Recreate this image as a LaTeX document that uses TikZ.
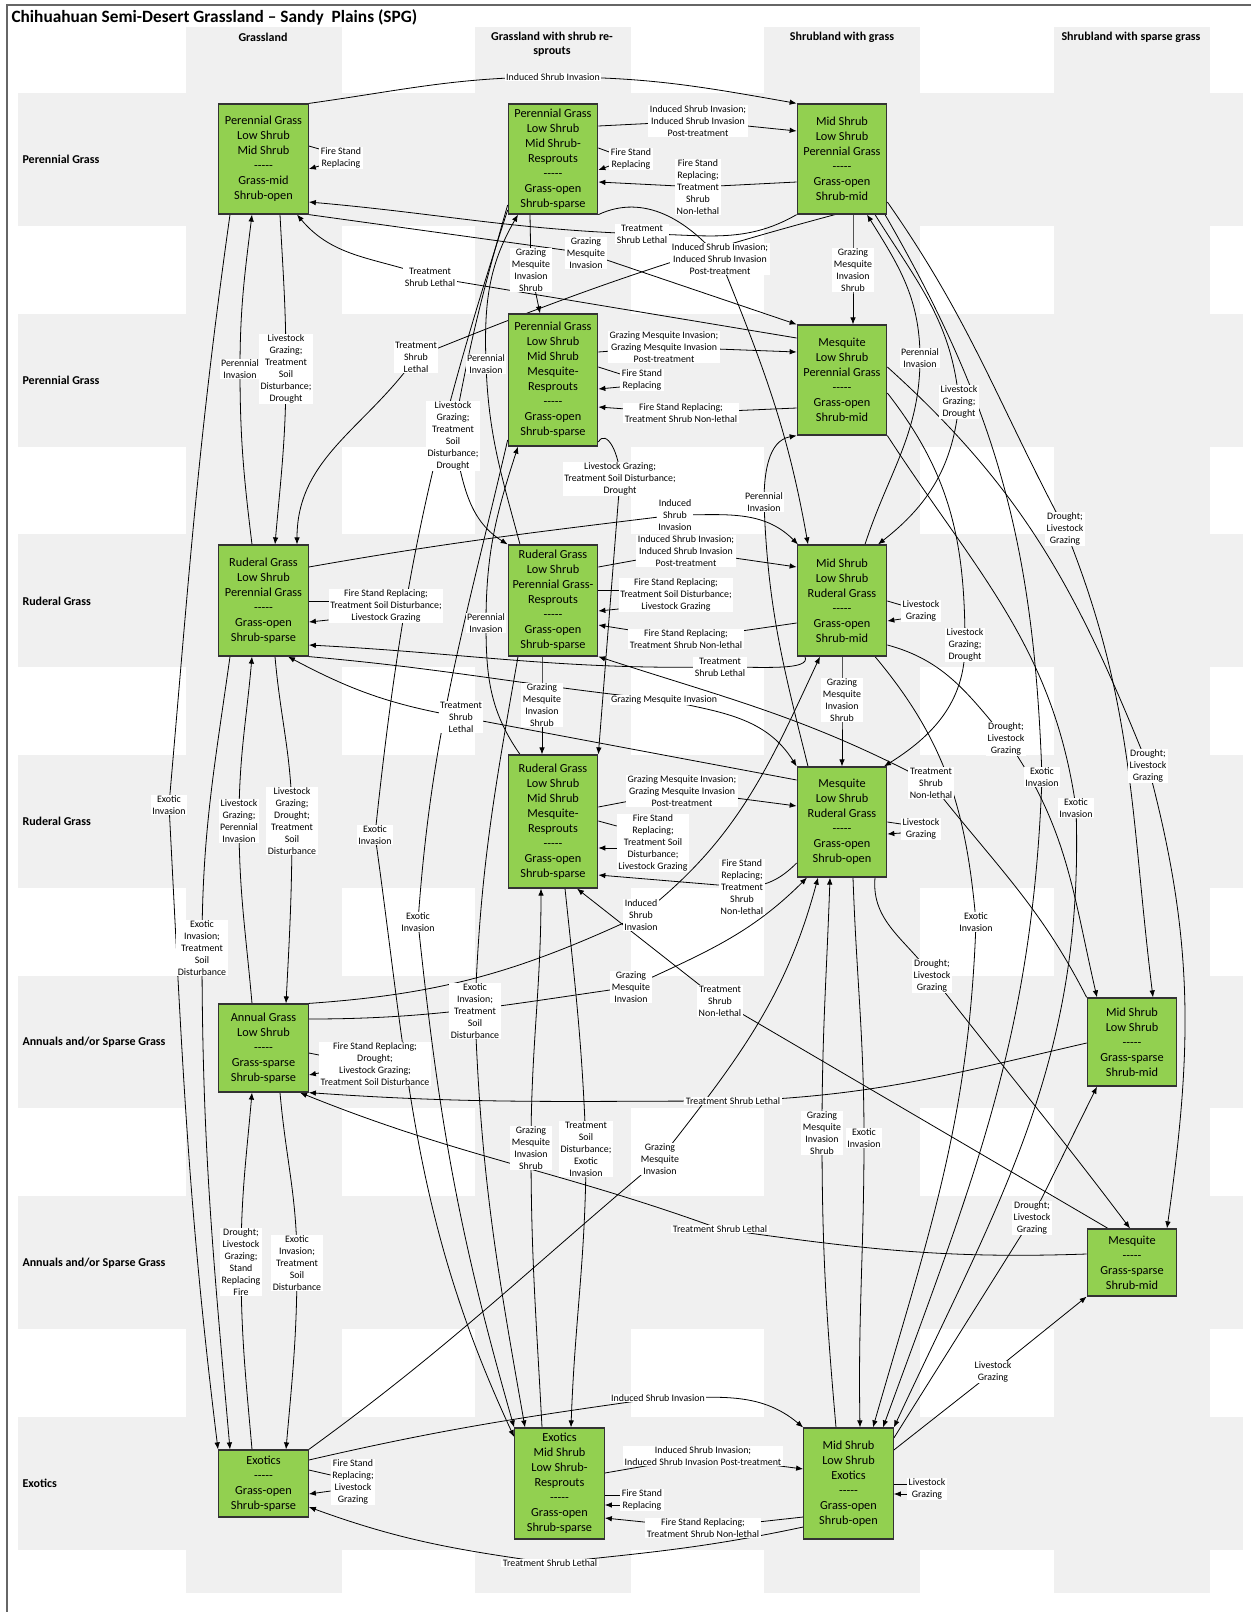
\documentclass[tikz,border=0pt]{standalone}
\usepackage{fontspec}
\setmainfont{Carlito}
\usetikzlibrary{arrows.meta,calc}
\definecolor{gfill}{HTML}{92D050}
\definecolor{bggray}{HTML}{F0F0F0}
\pgfdeclarelayer{bg}\pgfdeclarelayer{fg}\pgfsetlayers{bg,main,fg}
\newcommand\stfont{\fontsize{12.3}{15}\selectfont}
\newcommand\lbfont{\fontsize{9.9}{12}\selectfont}
\newcommand\dsh{-{}-{}-{}-{}-}
\begin{document}
\begin{tikzpicture}[x=1pt,y=-1pt,
  stbox/.style={draw=black!80, fill=gfill, line width=1.2pt, minimum width=89.5pt, inner sep=0pt, align=center, font=\stfont},
  elab/.style={fill=white, inner xsep=1.5pt, inner ysep=1pt, align=center, font=\lbfont},
  edg/.style={line width=0.8pt, draw=black},
  arw/.style={-{Latex[length=7pt,width=5.5pt]}},
  rowl/.style={anchor=west, font=\bfseries\fontsize{12}{14}\selectfont},
  hdr/.style={align=center, font=\bfseries\fontsize{12}{14}\selectfont}]
\useasboundingbox (0,0) rectangle (1251,1612);
\begin{pgfonlayer}{bg}
\fill[white] (0,0) rectangle (1251,1612);
\foreach \a/\b in {93/226,314/447,534/667,755/888,976/1108,1196/1329,1417/1550}
  \fill[bggray] (18,\a) rectangle (1243,\b);
\foreach \a/\b in {186/342,475/631,764/920,1054/1210}
  \fill[bggray] (\a,27) rectangle (\b,1593);
\draw[black!60, line width=1.5pt] (7,1612) -- (7,5) -- (1251,5);
\end{pgfonlayer}

\node[anchor=west, font=\bfseries\fontsize{17.3}{20}\selectfont] (title) at (8,17) {Chihuahuan Semi-Desert Grassland – Sandy~~Plains (SPG)};
\node[hdr] (h1) at (263,37) {Grassland};
\node[hdr] (h2) at (552,44) {Grassland with shrub re-\\sprouts};
\node[hdr] (h3) at (842,37) {Shrubland with grass};
\node[hdr] (h4) at (1131,37) {Shrubland with sparse grass};
\node[rowl] (r1) at (19,159) {Perennial Grass};
\node[rowl] (r2) at (19,380) {Perennial Grass};
\node[rowl] (r3) at (19,601) {Ruderal Grass};
\node[rowl] (r4) at (19,821) {Ruderal Grass};
\node[rowl] (r5) at (19,1042) {Annuals and/or Sparse Grass};
\node[rowl] (r6) at (19,1263) {Annuals and/or Sparse Grass};
\node[rowl] (r7) at (19,1483) {Exotics};

\begin{pgfonlayer}{fg}
\node[stbox,minimum height=110pt] (N1) at (263.5,159) {Perennial Grass\\Low Shrub\\Mid Shrub\\\dsh\\Grass-mid\\Shrub-open};
\node[stbox,minimum height=110pt] (N2) at (553,159) {Perennial Grass\\Low Shrub\\Mid Shrub-\\Resprouts\\\dsh\\Grass-open\\Shrub-sparse};
\node[stbox,minimum height=110pt] (N3) at (842,159) {Mid Shrub\\Low Shrub\\Perennial Grass\\\dsh\\Grass-open\\Shrub-mid};
\node[stbox,minimum height=132pt] (N4) at (553,380) {Perennial Grass\\Low Shrub\\Mid Shrub\\Mesquite-\\Resprouts\\\dsh\\Grass-open\\Shrub-sparse};
\node[stbox,minimum height=110pt] (N5) at (842,380) {Mesquite\\Low Shrub\\Perennial Grass\\\dsh\\Grass-open\\Shrub-mid};
\node[stbox,minimum height=111pt] (N6) at (263.5,600.5) {Ruderal Grass\\Low Shrub\\Perennial Grass\\\dsh\\Grass-open\\Shrub-sparse};
\node[stbox,minimum height=111pt] (N7) at (553,600.5) {Ruderal Grass\\Low Shrub\\Perennial Grass-\\Resprouts\\\dsh\\Grass-open\\Shrub-sparse};
\node[stbox,minimum height=111pt] (N8) at (842,600.5) {Mid Shrub\\Low Shrub\\Ruderal Grass\\\dsh\\Grass-open\\Shrub-mid};
\node[stbox,minimum height=133pt] (N9) at (553,821.5) {Ruderal Grass\\Low Shrub\\Mid Shrub\\Mesquite-\\Resprouts\\\dsh\\Grass-open\\Shrub-sparse};
\node[stbox,minimum height=110pt] (N10) at (842,822) {Mesquite\\Low Shrub\\Ruderal Grass\\\dsh\\Grass-open\\Shrub-open};
\node[stbox,minimum height=88pt] (N11) at (263.5,1048) {Annual Grass\\Low Shrub\\\dsh\\Grass-sparse\\Shrub-sparse};
\node[stbox,minimum height=88pt] (N12) at (1132,1042) {Mid Shrub\\Low Shrub\\\dsh\\Grass-sparse\\Shrub-mid};
\node[stbox,minimum height=67pt] (N13) at (1132,1262.5) {Mesquite\\\dsh\\Grass-sparse\\Shrub-mid};
\node[stbox,minimum height=67pt] (N14) at (263.5,1483.5) {Exotics\\\dsh\\Grass-open\\Shrub-sparse};
\node[stbox,minimum height=111pt] (N15) at (559.5,1483.5) {Exotics\\Mid Shrub\\Low Shrub-\\Resprouts\\\dsh\\Grass-open\\Shrub-sparse};
\node[stbox,minimum height=111pt] (N16) at (848.5,1483.5) {Mid Shrub\\Low Shrub\\Exotics\\\dsh\\Grass-open\\Shrub-open};

\node[elab] (l1) at (553,77) {Induced Shrub Invasion};
\node[elab] (l2) at (341,158) {Fire Stand\\Replacing};
\node[elab] (l3) at (698,121) {Induced Shrub Invasion;\\Induced Shrub Invasion\\Post-treatment};
\node[elab] (l4) at (631,159) {Fire Stand\\Replacing};
\node[elab] (l5) at (698,187) {Fire Stand\\Replacing;\\Treatment\\Shrub\\Non-lethal};
\node[elab] (l6) at (642,234) {Treatment\\Shrub Lethal};
\node[elab] (l7) at (586,253) {Grazing\\Mesquite\\Invasion};
\node[elab] (l8) at (430,277) {Treatment\\Shrub Lethal};
\node[elab] (l9) at (416,357) {Treatment\\Shrub\\Lethal};
\node[elab] (l10) at (720,259) {Induced Shrub Invasion;\\Induced Shrub Invasion\\Post-treatment};
\node[elab] (l11) at (169,805) {Exotic\\Invasion};
\node[elab] (l12) at (240,369) {Perennial\\Invasion};
\node[elab] (l13) at (286,369) {Livestock\\Grazing;\\Treatment\\Soil\\Disturbance;\\Drought};
\node[elab] (l14) at (531,270) {Grazing\\Mesquite\\Invasion\\Shrub};
\node[elab] (l15) at (486,364) {Perennial\\Invasion};
\node[elab] (l16) at (486,623) {Perennial\\Invasion};
\node[elab] (l17) at (453,436) {Livestock\\Grazing;\\Treatment\\Soil\\Disturbance;\\Drought};
\node[elab] (l18) at (375,835) {Exotic\\Invasion};
\node[elab] (l19) at (418,922) {Exotic\\Invasion};
\node[elab] (l20) at (475,1011) {Exotic\\Invasion;\\Treatment\\Soil\\Disturbance};
\node[elab] (l21) at (641,915) {Induced\\Shrub\\Invasion};
\node[elab] (l22) at (631,987) {Grazing\\Mesquite\\Invasion};
\node[elab] (l23) at (241,1262) {Drought;\\Livestock\\Grazing;\\Stand\\Replacing\\Fire};
\node[elab] (l24) at (297,1263) {Exotic\\Invasion;\\Treatment\\Soil\\Disturbance};
\node[elab] (l25) at (202,948) {Exotic\\Invasion;\\Treatment\\Soil\\Disturbance};
\node[elab] (l26) at (239,821) {Livestock\\Grazing;\\Perennial\\Invasion};
\node[elab] (l27) at (292,821) {Livestock\\Grazing;\\Drought;\\Treatment\\Soil\\Disturbance};
\node[elab] (l28) at (375,1064) {Fire Stand Replacing;\\Drought;\\Livestock Grazing;\\Treatment Soil Disturbance};
\node[elab] (l29) at (733,1101) {Treatment Shrub Lethal};
\node[elab] (l30) at (720,1229) {Treatment Shrub Lethal};
\node[elab] (l31) at (550,1563) {Treatment Shrub Lethal};
\node[elab] (l32) at (822,1133) {Grazing\\Mesquite\\Invasion\\Shrub};
\node[elab] (l33) at (660,1159) {Grazing\\Mesquite\\Invasion};
\node[elab] (l34) at (658,1398) {Induced Shrub Invasion};
\node[elab] (l35) at (353,1482) {Fire Stand\\Replacing;\\Livestock\\Grazing};
\node[elab] (l36) at (703,1456) {Induced Shrub Invasion;\\Induced Shrub Invasion Post-treatment};
\node[elab] (l37) at (642,1500) {Fire Stand\\Replacing};
\node[elab] (l38) at (703,1528) {Fire Stand Replacing;\\Treatment Shrub Non-lethal};
\node[elab] (l39) at (586,1149) {Treatment\\Soil\\Disturbance;\\Exotic\\Invasion};
\node[elab] (l40) at (531,1148) {Grazing\\Mesquite\\Invasion\\Shrub};
\node[elab] (l41) at (720,1001) {Treatment\\Shrub\\Non-lethal};
\node[elab] (l42) at (682,791) {Grazing Mesquite Invasion;\\Grazing Mesquite Invasion\\Post-treatment};
\node[elab] (l43) at (653,843) {Fire Stand\\Replacing;\\Treatment Soil\\Disturbance;\\Livestock Grazing};
\node[elab] (l44) at (742,887) {Fire Stand\\Replacing;\\Treatment\\Shrub\\Non-lethal};
\node[elab] (l45) at (921,829) {Livestock\\Grazing};
\node[elab] (l46) at (864,1138) {Exotic\\Invasion};
\node[elab] (l47) at (932,976) {Drought;\\Livestock\\Grazing};
\node[elab] (l48) at (1065,529) {Drought;\\Livestock\\Grazing};
\node[elab] (l49) at (959,402) {Livestock\\Grazing;\\Drought};
\node[elab] (l50) at (1042,777) {Exotic\\Invasion};
\node[elab] (l51) at (1032,1218) {Drought;\\Livestock\\Grazing};
\node[elab] (l52) at (993,1372) {Livestock\\Grazing};
\node[elab] (l53) at (1006,739) {Drought;\\Livestock\\Grazing};
\node[elab] (l54) at (1148,766) {Drought;\\Livestock\\Grazing};
\node[elab] (l55) at (965,645) {Livestock\\Grazing;\\Drought};
\node[elab] (l56) at (675,515) {Induced\\Shrub\\Invasion};
\node[elab] (l57) at (686,551) {Induced Shrub Invasion;\\Induced Shrub Invasion\\Post-treatment};
\node[elab] (l58) at (676,595) {Fire Stand Replacing;\\Treatment Soil Disturbance;\\Livestock Grazing};
\node[elab] (l59) at (686,639) {Fire Stand Replacing;\\Treatment Shrub Non-lethal};
\node[elab] (l60) at (720,667) {Treatment\\Shrub Lethal};
\node[elab] (l61) at (664,700) {Grazing Mesquite Invasion};
\node[elab] (l62) at (461,717) {Treatment\\Shrub\\Lethal};
\node[elab] (l63) at (842,700) {Grazing\\Mesquite\\Invasion\\Shrub};
\node[elab] (l64) at (920,358) {Perennial\\Invasion};
\node[elab] (l65) at (764,502) {Perennial\\Invasion};
\node[elab] (l66) at (921,611) {Livestock\\Grazing};
\node[elab] (l67) at (976,922) {Exotic\\Invasion};
\node[elab] (l68) at (664,347) {Grazing Mesquite Invasion;\\Grazing Mesquite Invasion\\Post-treatment};
\node[elab] (l69) at (642,380) {Fire Stand\\Replacing};
\node[elab] (l70) at (681,413) {Fire Stand Replacing;\\Treatment Shrub Non-lethal};
\node[elab] (l71) at (620,479) {Livestock Grazing;\\Treatment Soil Disturbance;\\Drought};
\node[elab] (l73) at (931,783) {Treatment\\Shrub\\Non-lethal};
\node[elab] (l74) at (542,705) {Grazing\\Mesquite\\Invasion\\Shrub};
\node[elab] (l75) at (853,270) {Grazing\\Mesquite\\Invasion\\Shrub};
\node[elab] (l76) at (1076,808) {Exotic\\Invasion};
\node[elab] (l77) at (386,606) {Fire Stand Replacing;\\Treatment Soil Disturbance;\\Livestock Grazing};
\node[elab] (l78) at (927,1489) {Livestock\\Grazing};
\end{pgfonlayer}

% edges
\draw[edg,arw] (N1.north east) to[out=8,in=180] (l1.center) to[out=0,in=170] (N3.north west);
\draw[edg] (N1.east |- 0,146) -- (l2.west |- 0,149);
\draw[edg,arw] (l2.west |- 0,166) -- (N1.east |- 0,169);
\draw[edg,arw] (N2.east |- 0,126) -- (l3.center) -- (N3.west |- 0,131);
\draw[edg] (N2.east |- 0,148) -- (l4.west |- 0,152);
\draw[edg,arw] (l4.west |- 0,166) -- (N2.east |- 0,170);
\draw[edg,arw] (N3.west |- 0,182) -- (l5.center) -- (N2.east |- 0,182);
\draw[edg,arw] (N3.south west) to[out=-150,in=0] (l6.center) to[out=178,in=-5] (N1.east |- 0,202);
\draw[edg,arw] (N1.south east) -- (l7.center) -- (N5.north west);
\draw[edg,arw] (N5.west |- 0,338) -- (l8.center) to[out=160,in=-50] (N1.south -| 297,0);
\draw[edg,arw] (N3.south -| 835,0) to[out=-165,in=22] (l9.center) to[out=-125,in=90] (N6.north -| 297,0);
\draw[edg,arw] (N2.south east) to[out=25,in=130] (l10.center) to[out=-68,in=100] (N8.north -| 808,0);
\draw[edg,arw] (N1.south -| 230,0) to[out=-98,in=85] (l11.center) to[out=-87,in=97] (N14.north -| 218,0);
\draw[edg,arw] (N6.north -| 252,0) to[out=97,in=-90] (l12.center) to[out=90,in=-97] (N1.south -| 252,0);
\draw[edg,arw] (N1.south -| 280,0) to[out=-87,in=90] (l13.center) to[out=-90,in=85] (N6.north -| 275,0);
\draw[edg,arw] (N2.south -| 530,0) -- (l14.center) -- (N4.north -| 540,0);
\draw[edg,arw] (N7.north -| 520,0) to[out=105,in=-88] (l15.center) to[out=92,in=-120] (N2.south -| 518,0);
\draw[edg,arw] (N9.north -| 520,0) to[out=125,in=-90] (l16.center) to[out=90,in=-108] (N4.south -| 518,0);
\draw[edg,arw] (N2.west |- 0,205) to[out=-106,in=80] (l17.center) to[out=-78,in=148] (N7.north west);
\draw[edg,arw] (N2.west |- 0,210) to[out=-108,in=84] (l18.center) to[out=-82,in=115] (N15.west |- 0,1437);
\draw[edg,arw] (N4.west |- 0,440) to[out=-103,in=86] (l19.center) to[out=-84,in=106] (N15.north west);
\draw[edg,arw] (N7.south -| 518,0) to[out=-100,in=88] (l20.center) to[out=-88,in=100] (N15.north -| 525,0);
\draw[edg,arw] (N11.north east) to[out=4,in=-155] (l21.center) to[out=38,in=-115] (N8.south -| 820,0);
\draw[edg,arw] (N11.east |- 0,1019) to[out=0,in=-172] (l22.center) to[out=25,in=-135] (N10.south -| 807,0);
\draw[edg,arw] (N14.north -| 252,0) to[out=95,in=-90] (l23.center) to[out=90,in=-95] (N11.south -| 252,0);
\draw[edg,arw] (N11.south -| 280,0) to[out=-85,in=90] (l24.center) to[out=-90,in=85] (N14.north -| 286,0);
\draw[edg,arw] (N6.south -| 230,0) to[out=-98,in=90] (l25.center) to[out=-90,in=95] (N14.north -| 230,0);
\draw[edg,arw] (N11.north -| 252,0) to[out=95,in=-90] (l26.center) to[out=90,in=-95] (N6.south -| 252,0);
\draw[edg,arw] (N6.south -| 275,0) to[out=-85,in=90] (l27.center) to[out=-90,in=87] (N11.north -| 286,0);
\draw[edg] (N11.east |- 0,1053) -- (l28.west |- 0,1055);
\draw[edg,arw] (l28.west |- 0,1073) -- (N11.east |- 0,1075);
\draw[edg,arw] (N12.west |- 0,1043) to[out=-167,in=2] (l29.center) to[out=180,in=-4] (N11.south east);
\draw[edg,arw] (N13.west |- 0,1254) to[out=-178,in=-8] (l30.center) to[out=160,in=-22] (N11.south -| 300,0);
\draw[edg,arw] (N16.west |- 0,1527) to[out=-168,in=6] (l31.center) to[out=172,in=-20] (N14.east |- 0,1507);
\draw[edg,arw] (N16.north -| 836,0) to[out=95,in=-90] (l32.center) to[out=90,in=-92] (N10.south -| 830,0);
\draw[edg,arw] (N14.north east) to[out=36,in=-140] (l33.center) to[out=52,in=-105] (N10.south -| 818,0);
\draw[edg,arw] (N14.east |- 0,1460) to[out=13,in=-172] (l34.center) to[out=0,in=140] (N16.north west);
\draw[edg] (N14.east |- 0,1470) -- (l35.west |- 0,1475);
\draw[edg,arw] (l35.west |- 0,1491) -- (N14.east |- 0,1494);
\draw[edg,arw] (N15.east |- 0,1473) -- (l36.center) -- (N16.west |- 0,1469);
\draw[edg] (N15.east |- 0,1495) -- (l37.west |- 0,1495);
\draw[edg,arw] (l37.west |- 0,1505) -- (N15.east |- 0,1505);
\draw[edg,arw] (N16.west |- 0,1517) -- (l38.center) -- (N15.east |- 0,1518);
\draw[edg,arw] (N9.south -| 565,0) to[out=-84,in=92] (l39.center) to[out=-90,in=88] (N15.north -| 571,0);
\draw[edg,arw] (N15.north -| 542,0) to[out=93,in=-90] (l40.center) to[out=90,in=-90] (N9.south -| 541,0);
\draw[edg,arw] (N13.north -| 1108,0) -- (l41.center) -- (N9.south -| 577,0);
\draw[edg,arw] (N9.east |- 0,807) -- (l42.center) -- (N10.west |- 0,806);
\draw[edg] (N9.east |- 0,821) -- (l43.west |- 0,826);
\draw[edg,arw] (l43.west |- 0,848) -- (N9.east |- 0,848);
\draw[edg,arw] (N10.west |- 0,863) to[out=-135,in=0] (l44.center) -- (N9.east |- 0,875);
\draw[edg] (N10.east |- 0,822) -- (l45.west |- 0,824);
\draw[edg,arw] (l45.west |- 0,833) -- (N10.east |- 0,834);
\draw[edg,arw] (N10.south -| 853,0) to[out=-88,in=90] (l46.center) to[out=-90,in=91] (N16.north -| 860,0);
\draw[edg,arw] (N10.south -| 875,0) to[out=-95,in=125] (l47.center) to[out=-52,in=127] (N13.north -| 1130,0);
\draw[edg,arw] (N3.east |- 0,202) to[out=-55,in=118] (l48.center) to[out=-68,in=97] (N12.north -| 1153,0);
\draw[edg,arw] (N3.south -| 875,0) to[out=-58,in=95] (l49.center) to[out=-95,in=38] (N8.north -| 878,0);
\draw[edg,arw] (N3.south -| 885,0) to[out=-60,in=92] (l50.center) to[out=-92,in=70] (N16.north -| 883,0);
\draw[edg,arw] (N16.east |- 0,1438) -- (l51.center) -- (N12.south -| 1097,0);
\draw[edg,arw] (N16.east |- 0,1450) -- (l52.center) -- (N13.south west);
\draw[edg,arw] (N8.east |- 0,645) to[out=-15,in=130] (l53.center) to[out=-55,in=103] (N12.north -| 1097,0);
\draw[edg,arw] (N5.east |- 0,367) to[out=-42,in=112] (l54.center) to[out=-75,in=82] (N13.north -| 1167,0);
\draw[edg,arw] (N5.east |- 0,393) to[out=-52,in=90] (l55.center) to[out=-90,in=32] (N10.north -| 884,0);
\draw[edg,arw] (N6.east |- 0,567) to[out=10,in=-173] (l56.center) to[out=0,in=135] (N8.north -| 798,0);
\draw[edg,arw] (N7.east |- 0,567) -- (l57.center) -- (N8.west |- 0,567);
\draw[edg] (N7.east |- 0,590) -- (l58.west |- 0,590);
\draw[edg,arw] (l58.west |- 0,609) -- (N7.east |- 0,611);
\draw[edg,arw] (N8.west |- 0,623) -- (l59.center) -- (N7.east |- 0,625);
\draw[edg,arw] (N8.south -| 805,0) .. controls +(6,14) and +(45,0) .. (l60.center) to[out=181,in=-3] (N6.east |- 0,645);
\draw[edg,arw] (N6.south east) to[out=-5,in=174] (l61.center) to[out=-12,in=122] (N10.north west);
\draw[edg,arw] (N10.west |- 0,780) -- (l62.center) to[out=170,in=-28] (N6.south -| 288,0);
\draw[edg,arw] (N8.south) -- (l63.center) -- (N10.north);
\draw[edg,arw] (N8.north -| 865,0) to[out=72,in=-90] (l64.center) to[out=90,in=-58] (N3.south -| 867,0);
\draw[edg,arw] (N10.north -| 808,0) to[out=104,in=-88] (l65.center) to[out=90,in=-170] (N5.south west);
\draw[edg] (N8.east |- 0,601) -- (l66.west |- 0,605);
\draw[edg,arw] (l66.west |- 0,619) -- (N8.east |- 0,621);
\draw[edg,arw] (N8.south -| 875,0) to[out=-50,in=95] (l67.center) to[out=-92,in=74] (N16.north -| 873,0);
\draw[edg,arw] (N4.east |- 0,352) -- (l68.center) -- (N5.west |- 0,352);
\draw[edg] (N4.east |- 0,367) -- (l69.west |- 0,374);
\draw[edg,arw] (l69.west |- 0,387) -- (N4.east |- 0,389);
\draw[edg,arw] (N5.west |- 0,408) -- (l70.center) -- (N4.east |- 0,407);
\draw[edg,arw] (N4.east |- 0,442) .. controls +(8,-14) and +(0,-25) .. (l71.center) -- (N9.north east);
\draw[edg,arw] (N12.north west) to[out=117,in=-52] (l73.center) to[out=152,in=-18] (N7.south east);
\draw[edg,arw] (N7.south -| 542,0) -- (l74.center) -- (N9.north -| 542,0);
\draw[edg,arw] (N3.south -| 853,0) -- (l75.center) -- (N5.north -| 853,0);
\draw[edg,arw] (N5.south east) to[out=-57,in=98] (l76.center) to[out=-88,in=65] (N16.north east);
\draw[edg] (N6.east |- 0,601) -- (l77.west |- 0,601);
\draw[edg,arw] (l77.west |- 0,620) -- (N6.east |- 0,622);
\draw[edg] (N16.east |- 0,1484) -- (l78.west |- 0,1484);
\draw[edg,arw] (l78.west |- 0,1494) -- (N16.east |- 0,1494);
\end{tikzpicture}
\end{document}
